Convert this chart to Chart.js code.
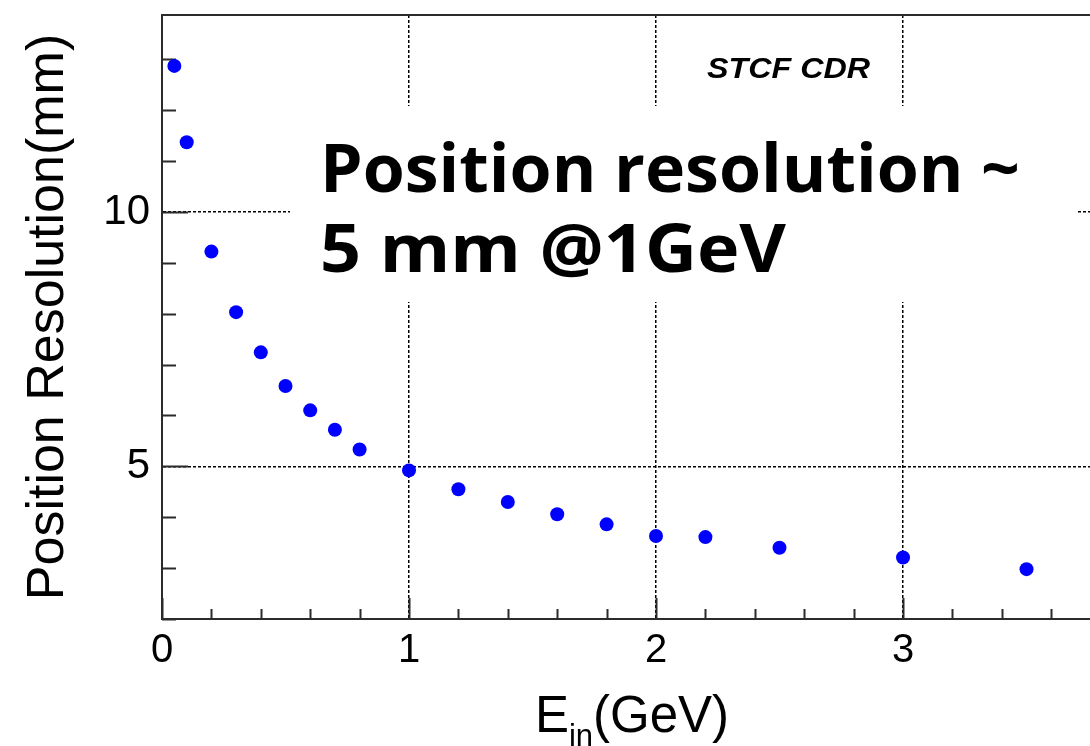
<!DOCTYPE html>
<html>
<head>
<meta charset="utf-8">
<title>Position resolution vs. incident energy</title>
<script src="https://cdn.jsdelivr.net/npm/chart.js@4.4.1/dist/chart.umd.min.js"></script>
<style>
  html, body { margin: 0; padding: 0; background: #ffffff; }
  #wrap { width: 1090px; height: 746px; position: relative; overflow: hidden; }
  canvas { display: block; }
</style>
</head>
<body>
<div id="wrap"><canvas id="c" width="1090" height="746"></canvas></div>
<script>
// Incident energy (GeV) and measured position resolution (mm)
const energyGeV    = [0.05, 0.1, 0.2, 0.3, 0.4, 0.5, 0.6, 0.7, 0.8, 1.0, 1.2, 1.4, 1.6, 1.8, 2.0, 2.2, 2.5, 3.0, 3.5];
const resolutionMm = [12.87, 11.37, 9.22, 8.03, 7.24, 6.58, 6.10, 5.72, 5.33, 4.92, 4.55, 4.30, 4.06, 3.86, 3.63, 3.61, 3.40, 3.21, 2.98];

// Labelled axis ticks
const xTickLabels = [0, 1, 2, 3];
const yTickLabels = [5, 10];

// Visible axis ranges
const xRange = [0, 3.757];
const yRange = [2, 13.87];

// Texts
const yTitle = 'Position Resolution(mm)';
const xTitleMain = 'E';
const xTitleSub = 'in';
const xTitleUnit = '(GeV)';
const tagText = 'STCF CDR';
const noteLines = ['Position resolution ~', '5 mm @1GeV'];

const AXIS_FONT = '"Liberation Sans", Arial, Helvetica, sans-serif';
const NOTE_FONT = '"Open Sans", "Noto Sans", sans-serif';
const AXIS_INK = '#2b2b2b';

const points = energyGeV.map((e, i) => ({ x: e, y: resolutionMm[i] }));

// draw text stretched horizontally to span a given width
function fitText(ctx, text, x, y, width) {
  const w = ctx.measureText(text).width;
  ctx.save();
  ctx.translate(x, y);
  ctx.scale(width / w, 1);
  ctx.fillText(text, 0, 0);
  ctx.restore();
}

// ROOT-style frame: inward ticks, top frame line, annotation and x title
const frameDecor = {
  id: 'frameDecor',
  beforeDatasetsDraw(chart) {
    const { ctx, chartArea: a, scales: { x, y } } = chart;
    ctx.save();
    ctx.strokeStyle = AXIS_INK;
    ctx.lineWidth = 2;
    // top frame line
    ctx.beginPath();
    ctx.moveTo(a.left, a.top);
    ctx.lineTo(a.right, a.top);
    ctx.stroke();
    // x ticks: minor every 0.2, major on integers
    ctx.beginPath();
    for (let i = 0; i / 5 <= x.max + 1e-9; i++) {
      const px = Math.round(x.getPixelForValue(i / 5)) + 0.5;
      const len = (i % 5 === 0) ? 21 : 10;
      ctx.moveTo(px, a.bottom);
      ctx.lineTo(px, a.bottom - len);
    }
    // y ticks: minor every 1, major every 5
    for (let v = Math.ceil(y.min); v <= y.max + 1e-9; v++) {
      const py = Math.round(y.getPixelForValue(v)) + 0.5;
      const len = (v % 5 === 0) ? 26 : 14;
      ctx.moveTo(a.left, py);
      ctx.lineTo(a.left + len, py);
    }
    ctx.stroke();
    ctx.restore();
  },
  afterDatasetsDraw(chart) {
    const { ctx } = chart;
    ctx.save();
    ctx.textBaseline = 'alphabetic';
    ctx.textAlign = 'left';
    // experiment tag
    ctx.fillStyle = '#000';
    ctx.font = 'italic bold 29px ' + AXIS_FONT;
    fitText(ctx, tagText, 707, 78, 163);
    // annotation box
    ctx.fillStyle = '#ffffff';
    ctx.fillRect(290, 106, 788, 196);
    ctx.fillStyle = '#000';
    ctx.font = 'bold 66px ' + NOTE_FONT;
    fitText(ctx, noteLines[0], 320, 192, 700);
    fitText(ctx, noteLines[1], 320, 272, 466);
    ctx.restore();
  },
  afterDraw(chart) {
    const { ctx, chartArea: a } = chart;
    ctx.save();
    ctx.fillStyle = '#000';
    ctx.textBaseline = 'alphabetic';
    ctx.textAlign = 'left';
    const big = '51px ' + AXIS_FONT;
    const small = '31px ' + AXIS_FONT;
    ctx.font = big;
    const wE = ctx.measureText(xTitleMain).width;
    const wU = ctx.measureText(xTitleUnit).width;
    ctx.font = small;
    const wS = ctx.measureText(xTitleSub).width;
    const total = wE + wS + wU;
    let cx = (a.left + a.right) / 2 + 6 - total / 2;
    const base = 732;
    ctx.font = big;
    ctx.fillText(xTitleMain, cx, base);
    cx += wE;
    ctx.font = small;
    ctx.fillText(xTitleSub, cx, base + 14);
    cx += wS;
    ctx.font = big;
    ctx.fillText(xTitleUnit, cx, base);
    ctx.restore();
  }
};

new Chart(document.getElementById('c'), {
  type: 'scatter',
  data: {
    datasets: [{
      data: points,
      backgroundColor: '#0000ff',
      borderWidth: 0,
      pointRadius: 7,
      pointHoverRadius: 7
    }]
  },
  options: {
    responsive: false,
    animation: false,
    devicePixelRatio: 1,
    layout: { autoPadding: false, padding: { top: 15, right: 0, left: 0, bottom: 0 } },
    plugins: { legend: { display: false }, tooltip: { enabled: false } },
    scales: {
      x: {
        type: 'linear',
        min: xRange[0],
        max: xRange[1],
        afterBuildTicks: (s) => { s.ticks = xTickLabels.map(v => ({ value: v })); },
        afterFit: (s) => { s.height = 127; s.paddingLeft = 0; s.paddingRight = 0; },
        ticks: {
          color: '#000',
          font: { family: AXIS_FONT, size: 40 },
          padding: 8,
          maxRotation: 0,
          autoSkip: false,
          callback: (v) => String(v)
        },
        grid: { color: '#000', lineWidth: 1.5, drawTicks: false },
        border: { display: true, color: AXIS_INK, width: 2, dash: [3, 2] }
      },
      y: {
        type: 'linear',
        min: yRange[0],
        max: yRange[1],
        afterBuildTicks: (s) => { s.ticks = yTickLabels.map(v => ({ value: v })); },
        afterFit: (s) => { s.width = 162; s.paddingTop = 0; s.paddingBottom = 0; },
        ticks: {
          color: '#000',
          font: { family: AXIS_FONT, size: 42 },
          padding: 12,
          autoSkip: false,
          callback: (v) => String(v)
        },
        title: {
          display: true,
          text: yTitle,
          color: '#000',
          font: { family: AXIS_FONT, size: 52 },
          padding: { top: 17, bottom: 0 }
        },
        grid: { color: '#000', lineWidth: 1.5, drawTicks: false },
        border: { display: true, color: AXIS_INK, width: 2, dash: [3, 2] }
      }
    }
  },
  plugins: [frameDecor]
});
</script>
</body>
</html>
